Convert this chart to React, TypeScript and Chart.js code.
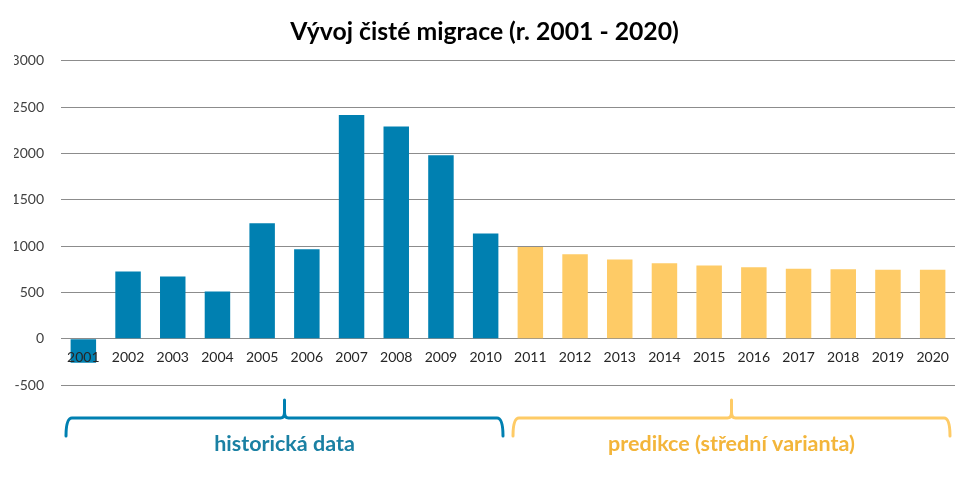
import React, { useEffect, useRef } from "react";
import { Chart, registerables } from "chart.js";

Chart.register(...registerables);

const years = ["2001","2002","2003","2004","2005","2006","2007","2008","2009","2010","2011","2012","2013","2014","2015","2016","2017","2018","2019","2020"];
const historical = [-260, 725, 670, 510, 1245, 965, 2415, 2290, 1980, 1135];
const prediction = [990, 910, 855, 815, 790, 770, 755, 750, 745, 745];
const yTicks = [-500, 0, 500, 1000, 1500, 2000, 2500, 3000];

const titleText = "Vývoj čisté migrace (r. 2001 - 2020)";
const groupLabels = ["historická data", "predikce (střední varianta)"];
const groupStart = [0, 10];
const groupEnd = [9, 19];

const BLUE = "#0080b1";
const YELLOW = "#fecb66";
const BLUE_TEXT = "#1a80a3";
const YELLOW_TEXT = "#f3b53a";
const FONT = "Lato, 'Open Sans', sans-serif";

const histData = years.map((_, i) => (i < historical.length ? historical[i] : null));
const predData = years.map((_, i) => (i >= historical.length ? prediction[i - historical.length] : null));

const bracePlugin = {
  id: "braces",
  afterDraw(chart: any) {
    const ctx = chart.ctx;
    const x = chart.scales.x;
    const bottom = chart.chartArea.bottom;
    const colors = [BLUE, YELLOW];
    const textColors = [BLUE_TEXT, YELLOW_TEXT];
    const half = (x.getPixelForValue(1) - x.getPixelForValue(0)) / 2;
    for (let g = 0; g < groupLabels.length; g++) {
      const left = x.getPixelForValue(groupStart[g]) - half + 5;
      const right = x.getPixelForValue(groupEnd[g]) + half - 5;
      const mid = (left + right) / 2;
      const lineY = bottom + 33;
      const endY = bottom + 51;
      const tipY = bottom + 15;
      ctx.save();
      ctx.strokeStyle = colors[g];
      ctx.lineWidth = 3;
      ctx.lineCap = "round";
      ctx.lineJoin = "round";
      ctx.beginPath();
      ctx.moveTo(left, endY);
      ctx.quadraticCurveTo(left, lineY, left + 6, lineY);
      ctx.lineTo(mid - 4, lineY);
      ctx.quadraticCurveTo(mid, lineY, mid, lineY - 6);
      ctx.lineTo(mid, tipY);
      ctx.moveTo(mid, lineY - 6);
      ctx.quadraticCurveTo(mid, lineY, mid + 4, lineY);
      ctx.lineTo(right - 6, lineY);
      ctx.quadraticCurveTo(right, lineY, right, endY);
      ctx.stroke();
      ctx.fillStyle = textColors[g];
      ctx.font = "bold 21.5px " + FONT;
      ctx.textAlign = "center";
      ctx.textBaseline = "middle";
      ctx.fillText(groupLabels[g], mid, bottom + 59);
      ctx.restore();
    }
  },
};

export default function App() {
  const ref = useRef<HTMLCanvasElement>(null);
  useEffect(() => {
    const chart = new Chart(ref.current as HTMLCanvasElement, {
      type: "bar",
      data: {
        labels: years,
        datasets: [
          { data: histData, backgroundColor: BLUE, grouped: false, skipNull: true } as any,
          { data: predData, backgroundColor: YELLOW, grouped: false, skipNull: true } as any,
        ],
      },
      options: {
        animation: false,
        responsive: true,
        maintainAspectRatio: false,
        datasets: { bar: { barPercentage: 0.57, categoryPercentage: 1 } },
        layout: { padding: { left: 14, right: 17, top: 17, bottom: 97 } },
        plugins: {
          legend: { display: false },
          tooltip: { enabled: false },
          title: {
            display: true,
            text: titleText,
            color: "#000000",
            font: { family: FONT, size: 24.75, weight: "bold" },
            padding: { top: 0, bottom: 14 },
          },
        },
        scales: {
          x: {
            position: { y: 0 } as any,
            grid: { display: false, drawTicks: false },
            border: { display: false },
            ticks: { z: 1, color: "#262626", font: { family: FONT, size: 14 }, padding: 10, maxRotation: 0, autoSkip: false },
          },
          y: {
            min: -500,
            max: 3000,
            afterBuildTicks: (s: any) => { s.ticks = yTicks.map((v) => ({ value: v })); },
            afterFit: (s: any) => { s.width = 47; },
            grid: { color: "#8c8c8c", lineWidth: 1, drawTicks: false },
            border: { display: false },
            ticks: { color: "#404040", font: { family: FONT, size: 14 }, padding: 17, callback: (v: any) => String(v) },
          },
        },
      },
      plugins: [bracePlugin],
    });
    return () => chart.destroy();
  }, []);
  return (
    <div style={{ position: "absolute", left: 0, top: 0, width: 972, height: 482, background: "#fff" }}>
      <canvas ref={ref} />
    </div>
  );
}
